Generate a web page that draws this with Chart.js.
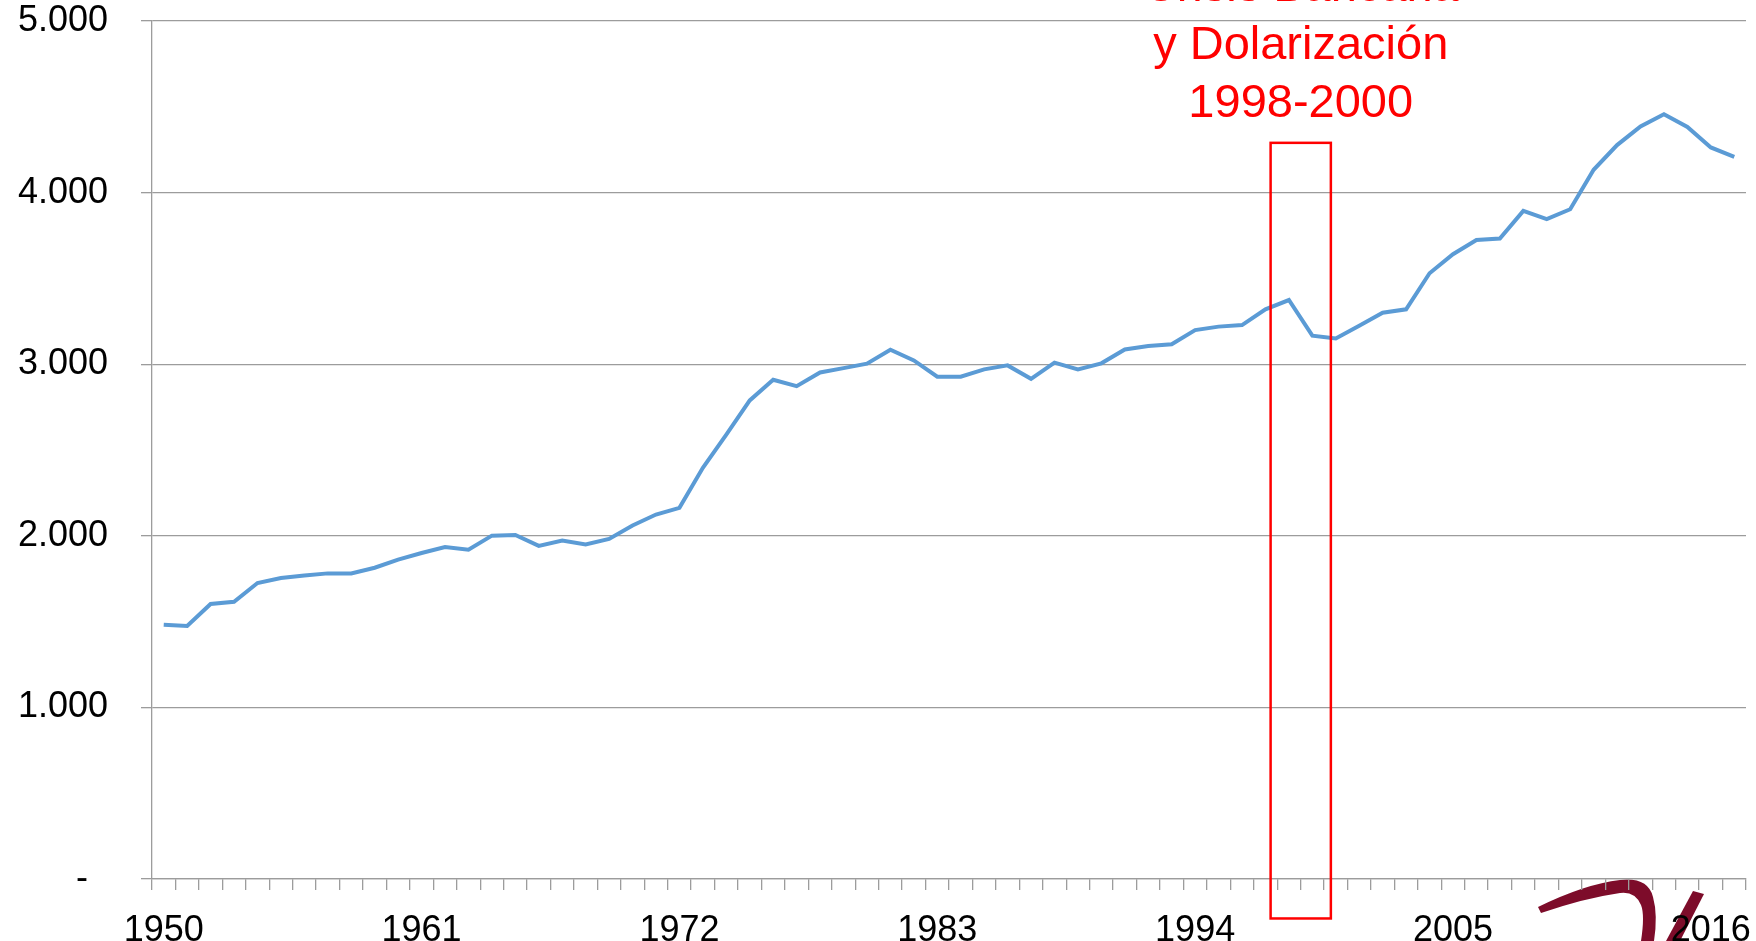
<!DOCTYPE html>
<html>
<head>
<meta charset="utf-8">
<script src="https://cdn.jsdelivr.net/npm/chart.js@4.4.1/dist/chart.umd.min.js"></script>
<style>
  html, body { margin: 0; padding: 0; background: #fff; overflow: hidden; }
  canvas { display: block; }
</style>
</head>
<body>
<canvas id="grafico" width="1756" height="941"></canvas>
<script>
// años (categorías del eje X)
const years = [
  '1950','1951','1952','1953','1954','1955','1956','1957','1958','1959',
  '1960','1961','1962','1963','1964','1965','1966','1967','1968','1969',
  '1970','1971','1972','1973','1974','1975','1976','1977','1978','1979',
  '1980','1981','1982','1983','1984','1985','1986','1987','1988','1989',
  '1990','1991','1992','1993','1994','1995','1996','1997','1998','1999',
  '2000','2001','2002','2003','2004','2005','2006','2007','2008','2009',
  '2010','2011','2012','2013','2014','2015','2016','2017'
];

// valores de la serie
const values = [
  1482, 1474, 1603, 1616, 1725, 1754, 1768, 1781, 1781, 1814,
  1861, 1900, 1935, 1919, 2001, 2005, 1941, 1972, 1949, 1982,
  2060, 2124, 2163, 2396, 2590, 2789, 2909, 2872, 2952, 2977,
  3003, 3084, 3022, 2927, 2927, 2970, 2993, 2915, 3009, 2970,
  3005, 3086, 3106, 3116, 3199, 3219, 3228, 3320, 3374, 3166,
  3150, 3224, 3300, 3320, 3530, 3641, 3724, 3732, 3893, 3845,
  3903, 4133, 4277, 4386, 4457, 4383, 4263, 4208
];

// etiquetas visibles del eje X
const xTickLabels = ['1950', '1961', '1972', '1983', '1994', '2005', '2016'];

// rango del eje Y
const yMin = 0;
const yMax = 5000;
const yStep = 1000;

// texto de la anotación
const annotationLines = ['Crisis Bancaria', 'y Dolarización', '1998-2000'];
const crisisStart = '1998';
const crisisEnd = '2000';

const gris = '#9C9C9C';

// anotación: recuadro rojo y texto
const anotacion = {
  id: 'anotacion',
  afterDraw(chart) {
    const { ctx, scales: { x, y } } = chart;
    const i0 = years.indexOf(crisisStart);
    const i1 = years.indexOf(crisisEnd);
    const left = x.getPixelForValue(i0 - 0.78);
    const right = x.getPixelForValue(i1 - 0.21);
    const top = y.getPixelForValue(4290);
    const bottom = y.getPixelForValue(-230);
    ctx.save();
    ctx.strokeStyle = '#FF0000';
    ctx.lineWidth = 2.5;
    ctx.strokeRect(left, top, right - left, bottom - top);
    ctx.fillStyle = '#FF0000';
    ctx.font = '47px "Liberation Sans", Arial, sans-serif';
    ctx.textAlign = 'center';
    ctx.textBaseline = 'alphabetic';
    const cx = (left + right) / 2;
    let base = top - 26;
    for (let k = annotationLines.length - 1; k >= 0; k--) {
      ctx.fillText(annotationLines[k], cx, base);
      base -= 58;
    }
    ctx.restore();
  }
};

// logo en la esquina inferior derecha
const logo = {
  id: 'logo',
  beforeDraw(chart) {
    const ctx = chart.ctx;
    ctx.save();
    ctx.fillStyle = '#7D0C2A';
    ctx.beginPath();
    ctx.moveTo(1538, 907);
    ctx.quadraticCurveTo(1585, 884, 1620, 880);
    ctx.quadraticCurveTo(1648, 877, 1653, 897);
    ctx.quadraticCurveTo(1658, 915, 1654, 941);
    ctx.lineTo(1641, 941);
    ctx.quadraticCurveTo(1645, 915, 1641, 905);
    ctx.quadraticCurveTo(1635, 891, 1620, 893);
    ctx.quadraticCurveTo(1585, 898, 1541, 913);
    ctx.closePath();
    ctx.fill();
    ctx.beginPath();
    ctx.moveTo(1693, 891);
    ctx.lineTo(1704, 894);
    ctx.lineTo(1680, 941);
    ctx.lineTo(1666, 941);
    ctx.closePath();
    ctx.fill();
    ctx.restore();
  }
};

new Chart(document.getElementById('grafico'), {
  type: 'line',
  data: {
    labels: years,
    datasets: [{
      data: values,
      borderColor: '#5B9BD5',
      borderWidth: 4,
      pointRadius: 0,
      tension: 0,
      fill: false
    }]
  },
  options: {
    responsive: false,
    animation: false,
    layout: { padding: { top: 21, right: 10, left: 0, bottom: 0 } },
    plugins: {
      legend: { display: false },
      tooltip: { enabled: false }
    },
    scales: {
      x: {
        offset: true,
        afterFit(scale) { scale.height = 62; },
        grid: {
          offset: true,
          drawOnChartArea: false,
          drawTicks: true,
          tickLength: 11,
          color: gris,
          lineWidth: 1.3
        },
        border: { display: true, color: gris, width: 1.3 },
        ticks: {
          autoSkip: false,
          maxRotation: 0,
          minRotation: 0,
          padding: 19,
          color: '#000',
          font: { family: '"Liberation Sans", Arial, sans-serif', size: 36 },
          callback(val, idx) {
            return xTickLabels.includes(years[idx]) ? years[idx] : '';
          }
        }
      },
      y: {
        min: yMin,
        max: yMax,
        afterFit(scale) {
          scale.width = 152;
          scale.paddingTop = 0;
          scale.paddingBottom = 0;
        },
        grid: {
          color: gris,
          lineWidth: 1.3,
          drawTicks: true,
          tickLength: 11
        },
        border: { display: true, color: gris, width: 1.3 },
        ticks: {
          stepSize: yStep,
          padding: 33,
          color: '#000',
          font: { family: '"Liberation Sans", Arial, sans-serif', size: 36 },
          callback(v) {
            return v === 0 ? '-  ' : v.toLocaleString('de-DE');
          }
        }
      }
    }
  },
  plugins: [logo, anotacion]
});
</script>
</body>
</html>
